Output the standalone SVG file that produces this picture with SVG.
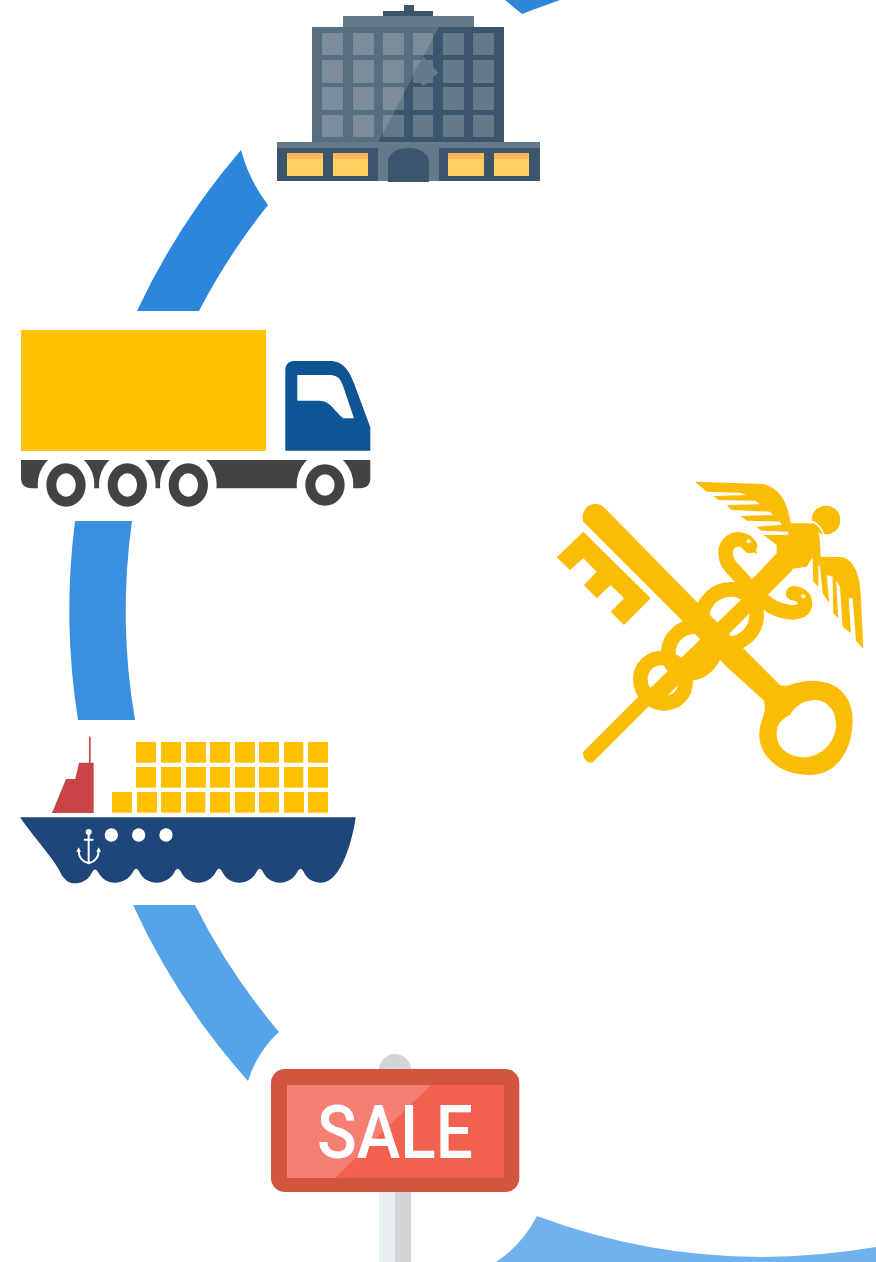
<svg xmlns="http://www.w3.org/2000/svg" width="876" height="1262" viewBox="0 0 876 1262">
<style>
.dk{fill:#3b556c}.md{fill:#64798a}.ct{fill:#ffc000}.em{fill:#fbbc05}.els{fill:none;stroke:#fbbc05;stroke-linecap:round}.w{fill:#fff}
.anc{fill:none;stroke:#fff;stroke-width:6;stroke-linecap:round}
</style>
<rect width="876" height="1262" fill="#fff"/>
<g id="connectors">
<path d="M505 0L522 14Q540 7 560 0Z" fill="#2b86dc"/>
<path d="M137 311A701 701 0 0 1 241 150Q249 180 268 205A645 645 0 0 0 199 311Z" fill="#2b86dc"/>
<path d="M75 521A701 701 0 0 0 78 720H135A645 645 0 0 1 132 521Z" fill="#3a8fdf"/>
<path d="M133 905A701 701 0 0 0 248 1081Q257 1052 279 1032A645 645 0 0 1 195 905Z" fill="#55a3e8"/>
<path d="M496 1262Q522 1245 537 1216Q700 1277 876 1247V1262Z" fill="#70b1ee"/>
</g>
<g id="building" transform="translate(270 0) scale(.3333)">
<rect class="dk" x="402" y="15" width="30" height="20"/>
<rect class="dk" x="339" y="33" width="150" height="16"/>
<rect class="md" x="219" y="48" width="393" height="34"/>
<rect class="dk" x="126" y="81" width="576" height="346"/>
<g class="md">
<rect x="156" y="99" width="63" height="66"/><rect x="249" y="99" width="63" height="66"/><rect x="339" y="99" width="63" height="66"/><rect x="429" y="99" width="60" height="66"/><rect x="519" y="99" width="63" height="66"/><rect x="609" y="99" width="63" height="66"/>
<rect x="156" y="180" width="63" height="69"/><rect x="249" y="180" width="63" height="69"/><rect x="339" y="180" width="63" height="69"/><rect x="429" y="180" width="60" height="69"/><rect x="519" y="180" width="63" height="69"/><rect x="609" y="180" width="63" height="69"/>
<rect x="156" y="261" width="63" height="69"/><rect x="249" y="261" width="63" height="69"/><rect x="339" y="261" width="63" height="69"/><rect x="429" y="261" width="60" height="69"/><rect x="519" y="261" width="63" height="69"/><rect x="609" y="261" width="63" height="69"/>
<rect x="156" y="345" width="63" height="66"/><rect x="249" y="345" width="63" height="66"/><rect x="339" y="345" width="63" height="66"/><rect x="429" y="345" width="60" height="66"/><rect x="519" y="345" width="63" height="66"/><rect x="609" y="345" width="63" height="66"/>
</g>
<path d="M126 81H507L325 426H126Z" fill="#fff" opacity=".15"/>
<path class="md" d="M460 170L505 218L460 258L428 225Z"/>
<rect class="dk" x="21" y="426" width="789" height="117"/>
<rect class="md" x="21" y="426" width="789" height="18"/>
<rect class="md" x="324" y="444" width="183" height="99"/>
<path class="dk" d="M354 546V485C354 458 385 444 415 444S477 458 477 485V546Z"/>
<g fill="#ffd15f"><rect x="51" y="459" width="108" height="69"/><rect x="189" y="459" width="105" height="69"/><rect x="534" y="459" width="108" height="69"/><rect x="672" y="459" width="105" height="69"/></g>
<g fill="#ffb957"><rect x="51" y="459" width="108" height="18"/><rect x="189" y="459" width="105" height="18"/><rect x="534" y="459" width="108" height="18"/><rect x="672" y="459" width="105" height="18"/></g>
</g>
<g id="truck" transform="translate(10 350) scale(.3333)">
<rect class="ct" x="33" y="-60" width="735" height="363"/>
<path d="M826 60C826 40 840 33 855 33H960C1000 33 1020 65 1032 100L1081 232V302H826Z" fill="#0e5596"/>
<path class="w" d="M862 75H960C985 75 993 90 1000 110L1032 205H1000C975 185 960 152 930 152H862Z"/>
<path d="M33 330H1081V385C1081 405 1070 415 1050 415H65C45 415 33 405 33 385Z" fill="#434343"/>
<g class="w"><ellipse cx="168" cy="405" rx="85" ry="97"/><ellipse cx="352" cy="405" rx="85" ry="97"/><ellipse cx="535" cy="405" rx="85" ry="97"/><ellipse cx="945" cy="405" rx="85" ry="97"/></g>
<g fill="none" stroke="#434343" stroke-width="30"><ellipse cx="168" cy="405" rx="44" ry="50"/><ellipse cx="352" cy="405" rx="44" ry="50"/><ellipse cx="535" cy="405" rx="44" ry="50"/><ellipse cx="945" cy="405" rx="44" ry="47"/></g>
</g>
<g id="ship" transform="translate(10 730) scale(.3333)">
<path d="M237 20H242V98H251V249H126L168 147H196L207 98H237Z" fill="#c94444"/>
<g class="ct">
<rect x="378" y="36" width="60" height="62"/><rect x="453" y="36" width="60" height="62"/><rect x="528" y="36" width="60" height="62"/><rect x="600" y="36" width="60" height="62"/><rect x="675" y="36" width="60" height="62"/><rect x="747" y="36" width="60" height="62"/><rect x="822" y="36" width="58" height="62"/><rect x="894" y="36" width="60" height="62"/>
<rect x="378" y="111" width="60" height="62"/><rect x="453" y="111" width="60" height="62"/><rect x="528" y="111" width="60" height="62"/><rect x="600" y="111" width="60" height="62"/><rect x="675" y="111" width="60" height="62"/><rect x="747" y="111" width="60" height="62"/><rect x="822" y="111" width="58" height="62"/><rect x="894" y="111" width="60" height="62"/>
<rect x="306" y="186" width="60" height="62"/><rect x="381" y="186" width="60" height="62"/><rect x="453" y="186" width="60" height="62"/><rect x="528" y="186" width="58" height="62"/><rect x="600" y="186" width="60" height="62"/><rect x="675" y="186" width="60" height="62"/><rect x="747" y="186" width="60" height="62"/><rect x="822" y="186" width="60" height="62"/><rect x="894" y="186" width="60" height="62"/>
</g>
<path d="M30 262H1037C1030 320 995 458 935 458C905 458 890 445 880 424C875 414 868 414 863 424C852 445 835 458 810 458C785 458 768 445 758 424C753 414 746 414 741 424C730 445 712 458 688 458C662 458 646 445 636 424C631 414 624 414 619 424C608 445 590 458 565 458C540 458 522 445 512 424C507 414 500 414 495 424C484 445 465 458 440 458C415 458 397 445 387 424C382 414 375 414 370 424C359 445 340 458 315 458C292 458 274 445 264 426C259 416 252 416 247 426C236 447 220 460 195 460C172 460 160 445 150 425C130 385 70 320 30 262Z" fill="#1e4678"/>
<g class="w"><circle cx="304" cy="315" r="20"/><circle cx="386" cy="315" r="20"/><circle cx="468" cy="315" r="20"/><circle cx="236" cy="306" r="9"/>
<path d="M199 365L206 352L213 365Z"/><path d="M259 365L266 352L273 365Z"/></g>
<path class="anc" d="M236 310V398M224 329H248M206 362C206 385 222 396 236 400C250 396 266 385 266 362"/>
</g>
<g id="sale-sign" transform="translate(260 1045) scale(.3333)">
<circle cx="405" cy="75" r="48" fill="#d1d5d8"/>
<rect x="357" y="430" width="48" height="222" fill="#e9eef1"/>
<rect x="405" y="430" width="48" height="222" fill="#d1d5d8"/>
<rect x="33" y="72" width="745" height="369" rx="42" fill="#d2553f"/>
<rect x="81" y="120" width="651" height="279" fill="#f26050"/>
<path d="M81 120H513L225 399H81Z" fill="#f57f72"/>
</g>
<text x="317" y="1158" font-family="Roboto, 'Liberation Sans', sans-serif" font-size="74" font-weight="500" fill="#fff" textLength="156" lengthAdjust="spacingAndGlyphs">SALE</text>
<g id="customs-emblem" transform="translate(550 470) scale(.3333)">
<path class="em" d="M100 155C90 125 115 95 145 103C152 105 158 108 163 113L440 395L600 555L690 645C710 655 740 632 785 632C865 632 908 680 908 750C908 840 860 915 780 915C690 915 625 860 628 790C630 745 655 725 640 690L530 590L385 440Z"/>
<path class="w" d="M680 790C680 760 700 745 720 735C740 700 770 690 800 690C840 695 860 730 858 770C855 820 810 862 760 862C715 860 680 835 680 790Z"/>
<path class="em" d="M100 185L302 385L222 465L182 425L222 385L182 345L140 385L102 345L140 305L100 265L60 300L20 262Z"/>
<g class="els" stroke-width="44">
<ellipse cx="339" cy="632" rx="70" ry="66" transform="rotate(45 339 632)"/>
<ellipse cx="425" cy="540" rx="66" ry="74" transform="rotate(45 425 540)"/>
<ellipse cx="538" cy="440" rx="80" ry="84" transform="rotate(45 538 440)"/>
<path d="M590 345C560 300 525 290 527 245C530 205 578 195 600 228"/>
<path d="M632 385C680 430 765 445 765 400C765 382 750 372 730 370"/>
</g>
<path class="em" d="M575 190L605 205L622 252L585 235Z"/>
<path class="em" d="M725 352L775 370L785 395L755 425Z"/>
<circle class="w" cx="596" cy="214" r="6"/>
<circle class="w" cx="760" cy="379" r="6"/>
<path class="em" d="M100 845L265 680L295 710L130 875C118 885 95 868 100 845Z"/>
<path class="em" d="M295 660L700 265L728 300L330 700Z"/>
<path class="em" d="M435 35L640 42C690 55 712 95 722 160L780 160C800 165 810 190 810 220L812 260L880 262C915 275 930 320 932 370L940 537L918 512L908 385L896 385L903 490L878 470L870 350L858 330L865 445L850 430L848 320L830 315L838 400L818 370L810 290L805 285L805 350L790 335L788 262L770 290L700 300L640 370L590 345L680 250L680 225L640 195L715 195V185L635 182L618 170L695 165L690 155L590 152L573 138L670 135L660 125L545 120L530 105L630 103L615 92L505 90L490 78L590 75L570 68L470 65Z"/>
<circle class="em" cx="828" cy="150" r="43"/>
<path d="M780 155C800 155 815 175 822 195" fill="none" stroke="#fff" stroke-width="5"/>
</g>
</svg>
